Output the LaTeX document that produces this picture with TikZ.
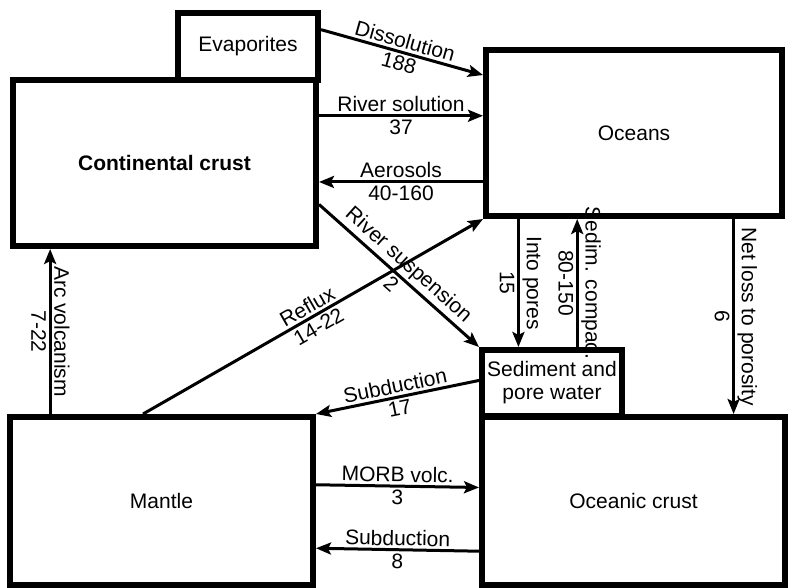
\documentclass[tikz,border=0pt]{standalone}
\usepackage{fontspec}
\setmainfont{Liberation Sans}
\usetikzlibrary{arrows.meta}

\begin{document}
\begin{tikzpicture}[x=1pt,y=-1pt,>={Stealth[length=15pt,width=12pt,inset=3pt]},font=\fontsize{21}{23}\selectfont,
    box/.style={draw,line width=6pt,align=center},
    flow/.style={line width=3pt,every node/.style={sloped,inner sep=2.5pt}}]
  \useasboundingbox (0,0) rectangle (792,588);
  % reservoirs
  \node[box,minimum width=140pt,minimum height=67pt] (evap) at (248,46.5) {Evaporites};
  \node[box,minimum width=303pt,minimum height=166pt] (cont) at (164.5,163) {\bfseries Continental crust};
  \node[box,minimum width=296pt,minimum height=166pt] (oceans) at (634,133) {Oceans};
  \node[box,minimum width=140pt,minimum height=66pt,inner sep=1pt] (sed) at (552,383) {Sediment and\\pore water};
  \node[box,minimum width=303pt,minimum height=168pt] (mantle) at (161.5,501) {Mantle};
  \node[box,minimum width=303pt,minimum height=168pt] (occrust) at (633.5,501) {Oceanic crust};
  % fluxes
  \draw[flow,->] (evap.13) -- (oceans.159) node[midway,above] {Dissolution} node[midway,below] {188};
  \draw[flow,->] (cont.17) -- (cont.17 -| oceans.west) node[midway,above] {River solution} node[midway,below] {37};
  \draw[flow,->] (cont.-7 -| oceans.west) -- (cont.-7) node[midway,above] {Aerosols} node[midway,below] {40-160};
  \draw[flow,->] (cont.-15) -- (sed.north west) node[midway,above] {River suspension} node[midway,below] {2};
  \draw[flow,->] (mantle.102) -- (oceans.south west) node[midway,above] {Reflux} node[midway,below] {14-22};
  \draw[flow,<-] (mantle.142 |- cont.south) -- (mantle.142) node[midway,above] {Arc volcanism} node[midway,below] {7-22};
  \draw[flow,->] (sed.133 |- oceans.south) -- (sed.133) node[midway,above] {Into pores} node[midway,below] {15};
  \draw[flow,<-] (sed.55 |- oceans.south) -- (sed.55) node[midway,above] {Sedim. compac.} node[midway,below] {80-150};
  \draw[flow,->] (occrust.41 |- oceans.south) -- (occrust.41) node[midway,above] {Net loss to porosity} node[midway,below] {6};
  \draw[flow,->] (sed.178) -- (mantle.north east) node[midway,above] {Subduction} node[midway,below] {17};
  \draw[flow,->] (mantle.6) -- (occrust.175) node[midway,above] {MORB volc.} node[midway,below] {3};
  \draw[flow,->] (occrust.-162) -- (mantle.-17) node[midway,above] {Subduction} node[midway,below] {8};
\end{tikzpicture}
\end{document}
